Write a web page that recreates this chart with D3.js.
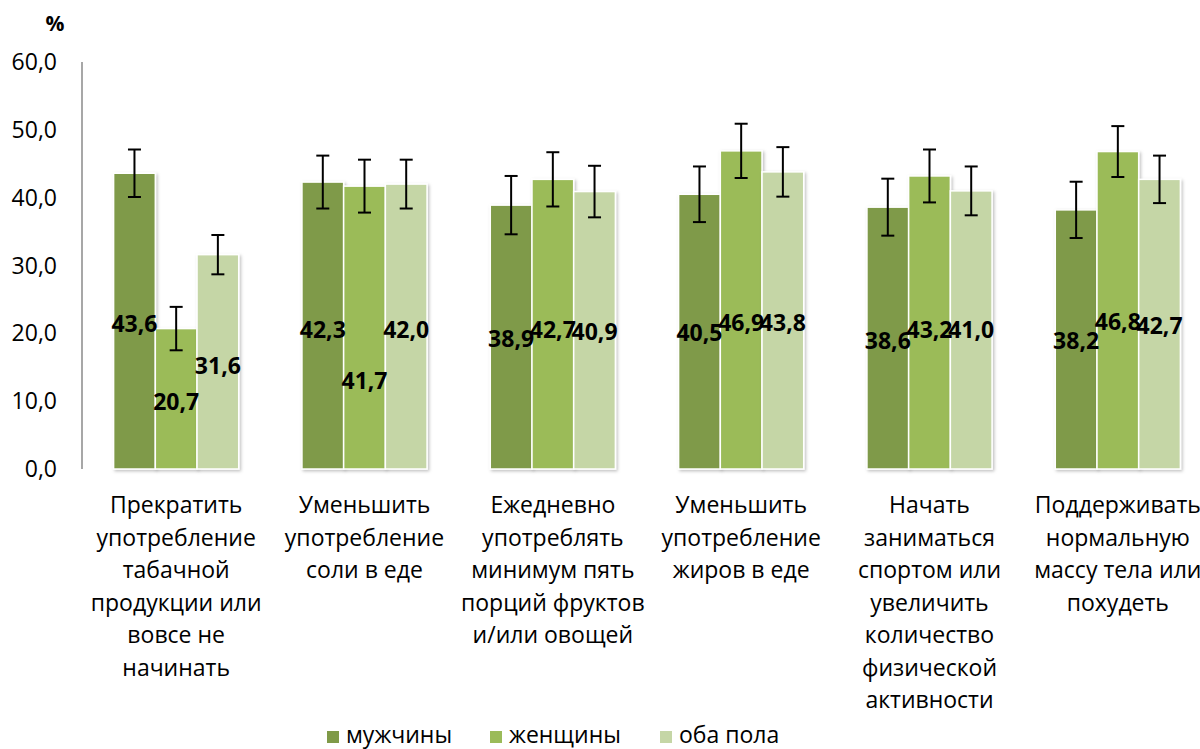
<!DOCTYPE html>
<html>
<head>
<meta charset="utf-8">
<script src="https://cdn.jsdelivr.net/npm/d3@7"></script>
<style>
  html, body { margin: 0; padding: 0; background: #fff; overflow: hidden; }
  svg { display: block; }
  text { font-family: "Open Sans", "Noto Sans", sans-serif; fill: #000; }
</style>
</head>
<body>
<svg id="chart" width="1200" height="749"></svg>
<script>
// ---- data ----
const categories = [
  ["Прекратить", "употребление", "табачной", "продукции или", "вовсе не", "начинать"],
  ["Уменьшить", "употребление", "соли в еде"],
  ["Ежедневно", "употреблять", "минимум пять", "порций фруктов", "и/или овощей"],
  ["Уменьшить", "употребление", "жиров в еде"],
  ["Начать", "заниматься", "спортом или", "увеличить", "количество", "физической", "активности"],
  ["Поддерживать", "нормальную", "массу тела или", "похудеть"]
];
const seriesNames = ["мужчины", "женщины", "оба пола"];
const men   = [43.6, 42.3, 38.9, 40.5, 38.6, 38.2];
const women = [20.7, 41.7, 42.7, 46.9, 43.2, 46.8];
const both  = [31.6, 42.0, 40.9, 43.8, 41.0, 42.7];
const menErr   = [3.5, 3.9, 4.3, 4.1, 4.2, 4.15];
const womenErr = [3.2, 3.9, 4.0, 4.0, 3.9, 3.75];
const bothErr  = [2.9, 3.6, 3.8, 3.65, 3.6, 3.5];
// where each data label sits (in axis units), as placed in the original
const menLabelAt   = [21.5, 20.6, 19.2, 20.1, 18.9, 18.9];
const womenLabelAt = [9.9, 13.0, 20.6, 21.6, 20.6, 21.8];
const bothLabelAt  = [15.3, 20.6, 20.2, 21.6, 20.6, 21.1];
const yTicks = [0, 10, 20, 30, 40, 50, 60];

// ---- layout / style ----
const colors = ["#7f9a48", "#9bbb59", "#c5d6a6"];
const values = [men, women, both];
const errs = [menErr, womenErr, bothErr];
const labelAt = [menLabelAt, womenLabelAt, bothLabelAt];
const fmt = v => d3.format(".1f")(v).replace(".", ",");

const svg = d3.select("#chart");
const defs = svg.append("defs");
const f = defs.append("filter").attr("id", "shadow")
  .attr("x", "-20%").attr("y", "-5%").attr("width", "140%").attr("height", "110%");
f.append("feDropShadow").attr("dx", 1.5).attr("dy", 1.5).attr("stdDeviation", 1.5)
  .attr("flood-color", "#000").attr("flood-opacity", 0.25);

const y = d3.scaleLinear().domain([0, 60]).range([469, 62]);
const x0 = d3.scaleBand().domain(d3.range(categories.length)).range([82, 1212]).padding(0);
const x1 = d3.scaleBand().domain(d3.range(3)).range([0, x0.bandwidth()])
  .paddingInner(0).paddingOuter(0.758);

// y tick labels
svg.append("g").selectAll("text").data(yTicks).join("text")
  .attr("x", 57).attr("y", d => y(d) + 8)
  .attr("text-anchor", "end")
  .style("font-size", "23px")
  .text(d => fmt(d));

// "%"
svg.append("text").attr("x", 55).attr("y", 31).attr("text-anchor", "middle")
  .style("font-size", "21px").style("font-weight", "bold").text("%");

// bars
const groups = svg.append("g").selectAll("g").data(categories).join("g")
  .attr("transform", (d, i) => `translate(${x0(i)},0)`);

groups.each(function (cat, ci) {
  const g = d3.select(this);
  for (let s = 0; s < 3; s++) {
    const v = values[s][ci];
    g.append("rect")
      .attr("x", x1(s)).attr("y", y(v))
      .attr("width", x1.bandwidth()).attr("height", y(0) - y(v))
      .attr("fill", colors[s])
      .attr("stroke", "#fff").attr("stroke-width", 1.5)
      .attr("filter", "url(#shadow)");
  }
});

// axes lines
svg.append("line").attr("x1", 82).attr("x2", 82).attr("y1", y(60)).attr("y2", y(0))
  .attr("stroke", "#8a8a8a").attr("stroke-width", 1.5);
svg.append("line").attr("x1", 82).attr("x2", 1212).attr("y1", y(0)).attr("y2", y(0))
  .attr("stroke", "#8a8a8a").attr("stroke-width", 1.5).attr("filter", "url(#shadow)");

// error bars
groups.each(function (cat, ci) {
  const g = d3.select(this);
  for (let s = 0; s < 3; s++) {
    const v = values[s][ci], e = errs[s][ci];
    const cx = x1(s) + x1.bandwidth() / 2;
    const eb = g.append("g").attr("stroke", "#000").attr("stroke-width", 2);
    eb.append("line").attr("x1", cx).attr("x2", cx).attr("y1", y(v + e)).attr("y2", y(v - e));
    eb.append("line").attr("x1", cx - 6.5).attr("x2", cx + 6.5).attr("y1", y(v + e)).attr("y2", y(v + e));
    eb.append("line").attr("x1", cx - 6.5).attr("x2", cx + 6.5).attr("y1", y(v - e)).attr("y2", y(v - e));
  }
});

// data labels
groups.each(function (cat, ci) {
  const g = d3.select(this);
  for (let s = 0; s < 3; s++) {
    const v = values[s][ci];
    const cx = x1(s) + x1.bandwidth() / 2;
    g.append("text").attr("x", cx).attr("y", y(labelAt[s][ci]) + 8.5)
      .attr("text-anchor", "middle")
      .style("font-size", "23px").style("font-weight", "bold")
      .text(fmt(v));
  }
});

// category labels
groups.each(function (lines, ci) {
  const t = d3.select(this).append("text")
    .attr("text-anchor", "middle").style("font-size", "23px");
  lines.forEach((ln, li) => {
    t.append("tspan").attr("x", x0.bandwidth() / 2).attr("y", 513 + li * 32.5).text(ln);
  });
});

// legend
const legendX = [327, 490, 660];
const lg = svg.append("g").selectAll("g").data(seriesNames).join("g")
  .attr("transform", (d, i) => `translate(${legendX[i]},0)`);
lg.append("rect").attr("x", 0).attr("y", 731).attr("width", 12).attr("height", 12)
  .attr("fill", (d, i) => colors[i]);
lg.append("text").attr("x", 19).attr("y", 743).style("font-size", "23px").text(d => d);
</script>
</body>
</html>
